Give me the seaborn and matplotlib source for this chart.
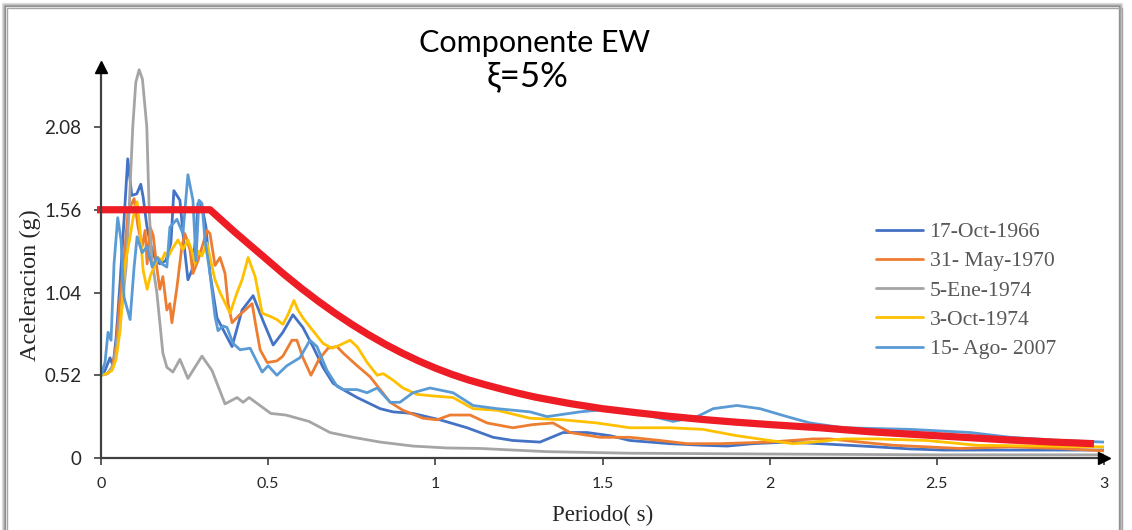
import numpy as np
import pandas as pd
import matplotlib
matplotlib.use("Agg")
import matplotlib.pyplot as plt
import seaborn as sns
from matplotlib import font_manager
from matplotlib.patches import Rectangle

# ---- Response spectra (period in s, spectral acceleration in g) ----
t_1966 = [0.000, 0.012, 0.027, 0.036, 0.045, 0.057, 0.069, 0.080, 0.092, 0.107, 0.119, 0.126,
          0.137, 0.147, 0.162, 0.176, 0.194, 0.209, 0.218, 0.236, 0.248, 0.260, 0.272, 0.284,
          0.290, 0.302, 0.314, 0.326, 0.347, 0.362, 0.392, 0.422, 0.455, 0.485, 0.515, 0.544,
          0.574, 0.604, 0.634, 0.664, 0.694, 0.724, 0.766, 0.835, 0.873, 0.933, 1.014, 1.095,
          1.173, 1.232, 1.313, 1.382, 1.454, 1.523, 1.582, 1.702, 1.800, 1.873, 1.950, 2.050,
          2.150, 2.320, 2.420, 2.520, 2.750, 3.000]
sa_1966 = [0.52, 0.55, 0.63, 0.58, 0.75, 1.10, 1.50, 1.88, 1.65, 1.66, 1.72, 1.64,
           1.46, 1.35, 1.25, 1.22, 1.24, 1.35, 1.68, 1.62, 1.35, 1.12, 1.18, 1.40,
           1.60, 1.58, 1.45, 1.16, 0.88, 0.82, 0.70, 0.93, 1.02, 0.86, 0.71, 0.79,
           0.90, 0.82, 0.70, 0.57, 0.47, 0.43, 0.38, 0.31, 0.29, 0.28, 0.24, 0.19,
           0.13, 0.11, 0.10, 0.16, 0.16, 0.14, 0.11, 0.09, 0.08, 0.075, 0.09, 0.10,
           0.09, 0.07, 0.057, 0.05, 0.05, 0.05]

t_1970 = [0.000, 0.018, 0.033, 0.045, 0.057, 0.069, 0.081, 0.099, 0.111, 0.123, 0.132, 0.138,
          0.147, 0.156, 0.168, 0.176, 0.185, 0.197, 0.206, 0.212, 0.227, 0.242, 0.251, 0.266,
          0.275, 0.290, 0.317, 0.326, 0.341, 0.356, 0.371, 0.380, 0.392, 0.410, 0.431, 0.452,
          0.464, 0.476, 0.497, 0.526, 0.544, 0.571, 0.586, 0.604, 0.628, 0.652, 0.679, 0.706,
          0.724, 0.766, 0.805, 0.835, 0.865, 0.903, 0.963, 1.005, 1.044, 1.104, 1.155, 1.232,
          1.292, 1.352, 1.403, 1.493, 1.582, 1.672, 1.753, 1.852, 2.000, 2.130, 2.180, 2.270,
          2.370, 2.470, 2.570, 2.720, 2.870, 3.000]
sa_1970 = [0.52, 0.53, 0.56, 0.70, 1.00, 1.25, 1.55, 1.63, 1.45, 1.33, 1.43, 1.22,
           1.45, 1.40, 1.18, 1.06, 1.14, 0.93, 0.97, 0.85, 1.07, 1.33, 1.41, 1.31,
           1.16, 1.24, 1.43, 1.41, 1.21, 1.26, 1.16, 0.97, 0.85, 0.89, 0.93, 0.97,
           0.82, 0.68, 0.60, 0.61, 0.64, 0.74, 0.74, 0.63, 0.52, 0.62, 0.69, 0.70,
           0.66, 0.58, 0.51, 0.43, 0.35, 0.30, 0.25, 0.24, 0.27, 0.27, 0.22, 0.19,
           0.21, 0.22, 0.16, 0.13, 0.13, 0.11, 0.09, 0.09, 0.10, 0.12, 0.12, 0.10,
           0.08, 0.07, 0.06, 0.07, 0.06, 0.045]

t_1974a = [0.000, 0.020, 0.040, 0.063, 0.075, 0.084, 0.095, 0.104, 0.114, 0.124, 0.137, 0.144,
           0.152, 0.167, 0.185, 0.197, 0.215, 0.236, 0.260, 0.302, 0.332, 0.371, 0.407, 0.425,
           0.443, 0.508, 0.553, 0.622, 0.685, 0.754, 0.835, 0.933, 1.035, 1.134, 1.232, 1.334,
           1.580, 2.000, 2.500, 3.000]
sa_1974a = [0.52, 0.53, 0.60, 0.95, 1.20, 1.56, 2.08, 2.36, 2.44, 2.38, 2.08, 1.56,
            1.25, 1.04, 0.66, 0.57, 0.54, 0.62, 0.50, 0.64, 0.55, 0.34, 0.38, 0.35,
            0.38, 0.28, 0.27, 0.23, 0.16, 0.13, 0.10, 0.075, 0.063, 0.06, 0.05, 0.04,
            0.03, 0.025, 0.02, 0.02]

t_1974b = [0.000, 0.018, 0.033, 0.045, 0.057, 0.072, 0.087, 0.096, 0.108, 0.117, 0.126, 0.138,
           0.147, 0.162, 0.171, 0.182, 0.191, 0.200, 0.212, 0.221, 0.230, 0.245, 0.260, 0.272,
           0.281, 0.290, 0.302, 0.317, 0.326, 0.341, 0.356, 0.386, 0.407, 0.422, 0.440, 0.461,
           0.482, 0.506, 0.526, 0.544, 0.559, 0.577, 0.589, 0.604, 0.634, 0.664, 0.691, 0.715,
           0.745, 0.766, 0.796, 0.826, 0.844, 0.873, 0.903, 0.945, 0.993, 1.053, 1.113, 1.185,
           1.283, 1.382, 1.484, 1.582, 1.702, 1.800, 1.902, 2.000, 2.070, 2.130, 2.220, 2.320,
           2.470, 2.620, 2.820, 3.000]
sa_1974b = [0.52, 0.53, 0.55, 0.62, 0.80, 1.22, 1.39, 1.51, 1.61, 1.43, 1.18, 1.06,
            1.14, 1.22, 1.26, 1.24, 1.29, 1.26, 1.31, 1.34, 1.37, 1.31, 1.37, 1.30,
            1.22, 1.30, 1.27, 1.35, 1.26, 1.12, 1.04, 0.91, 1.04, 1.12, 1.26, 1.14,
            0.91, 0.89, 0.87, 0.84, 0.90, 0.99, 0.93, 0.88, 0.80, 0.72, 0.69, 0.71,
            0.74, 0.70, 0.60, 0.52, 0.53, 0.49, 0.44, 0.40, 0.39, 0.38, 0.31, 0.30,
            0.25, 0.24, 0.22, 0.19, 0.19, 0.18, 0.14, 0.11, 0.09, 0.10, 0.12, 0.12,
            0.11, 0.08, 0.075, 0.07]

t_2007 = [0.000, 0.012, 0.021, 0.030, 0.039, 0.050, 0.060, 0.069, 0.087, 0.099, 0.108, 0.123,
          0.138, 0.153, 0.168, 0.182, 0.197, 0.206, 0.227, 0.245, 0.260, 0.275, 0.284, 0.293,
          0.302, 0.311, 0.326, 0.341, 0.350, 0.365, 0.377, 0.395, 0.416, 0.446, 0.482, 0.500,
          0.526, 0.556, 0.595, 0.625, 0.646, 0.676, 0.706, 0.724, 0.766, 0.796, 0.826, 0.865,
          0.894, 0.933, 0.984, 1.053, 1.113, 1.185, 1.283, 1.334, 1.433, 1.532, 1.633, 1.711,
          1.783, 1.831, 1.902, 1.971, 2.052, 2.121, 2.220, 2.420, 2.600, 2.720, 2.870, 3.000]
sa_2007 = [0.52, 0.60, 0.79, 0.74, 1.22, 1.51, 1.37, 1.01, 0.87, 1.20, 1.39, 1.29,
           1.33, 1.20, 1.26, 1.22, 1.20, 1.45, 1.50, 1.41, 1.78, 1.62, 1.24, 1.62,
           1.60, 1.37, 1.16, 0.89, 0.80, 0.83, 0.82, 0.72, 0.68, 0.69, 0.54, 0.58,
           0.52, 0.58, 0.63, 0.74, 0.70, 0.55, 0.45, 0.43, 0.43, 0.41, 0.44, 0.35,
           0.35, 0.41, 0.44, 0.41, 0.33, 0.31, 0.29, 0.26, 0.29, 0.31, 0.27, 0.23,
           0.26, 0.31, 0.33, 0.31, 0.26, 0.22, 0.19, 0.18, 0.16, 0.13, 0.11, 0.10]

# Design spectrum (plateau then descending branch)
t_diseno = [-0.012, 0.326, 0.40, 0.45, 0.50, 0.55, 0.60, 0.65, 0.70, 0.75, 0.80, 0.85, 0.90,
            0.95, 1.00, 1.05, 1.10, 1.15, 1.20, 1.25, 1.30, 1.40, 1.50, 1.60, 1.70, 1.80,
            1.90, 2.00, 2.15, 2.30, 2.50, 2.70, 2.85, 2.97]
sa_diseno = [1.56, 1.56, 1.42, 1.33, 1.24, 1.15, 1.065, 0.985, 0.91, 0.84, 0.775, 0.715, 0.66,
             0.61, 0.565, 0.525, 0.49, 0.46, 0.432, 0.406, 0.382, 0.343, 0.31, 0.285, 0.262,
             0.242, 0.225, 0.21, 0.19, 0.165, 0.14, 0.115, 0.10, 0.09]

eventos = ["17-Oct-1966", "31- May-1970", "5-Ene-1974", "3-Oct-1974", "15- Ago- 2007"]
colores = ["#4472C4", "#ED7D31", "#A5A5A5", "#FFC000", "#5B9BD5"]

y_ticks = [0, 0.52, 1.04, 1.56, 2.08]
y_tick_labels = ["0", "0.52", "1.04", "1.56", "2.08"]
x_ticks = [0, 0.5, 1, 1.5, 2, 2.5, 3]
x_tick_labels = ["0", "0.5", "1", "1.5", "2", "2.5", "3"]

# ---- long-format table for seaborn ----
series_t = [t_1966, t_1970, t_1974a, t_1974b, t_2007]
series_sa = [sa_1966, sa_1970, sa_1974a, sa_1974b, sa_2007]
frames = []
for nombre, tt, ss in zip(eventos, series_t, series_sa):
    frames.append(pd.DataFrame({"Periodo": tt, "Sa": ss, "Evento": nombre}))
df = pd.concat(frames, ignore_index=True)


def pick_font(*names):
    avail = {f.name for f in font_manager.fontManager.ttflist}
    for n in names:
        if n in avail:
            return n
    return "DejaVu Sans"


sns.set_theme(style="white")
sans = pick_font("Lato", "Open Sans", "Liberation Sans")
serif = pick_font("Liberation Serif", "DejaVu Serif")
plt.rcParams["font.family"] = [sans, "DejaVu Sans"]

W, H = 1132, 530
fig = plt.figure(figsize=(W / 100, H / 100), dpi=100)
fig.patch.set_facecolor("white")

x0_px, x1_px = 101, 1104
y0_px, ytop_px = 458, 67
ax = fig.add_axes([x0_px / W, 1 - y0_px / H, (x1_px - x0_px) / W, (y0_px - ytop_px) / H])
ax.set_facecolor("white")

sns.lineplot(data=df, x="Periodo", y="Sa", hue="Evento", hue_order=eventos,
             palette=colores, sort=False, estimator=None, linewidth=2.0, ax=ax)

sns.lineplot(x=t_diseno, y=sa_diseno, color="#EE1C25", linewidth=5.2, sort=False,
             estimator=None, ax=ax)
ax.lines[-1].set_clip_on(False)
ax.lines[-1].set_solid_capstyle("butt")

ax.set_xlim(0, 3.0)
ax.set_ylim(0, (y0_px - ytop_px) * 0.52 / 82.75)

# axes styling: only the two axes with arrow heads
for s in ["top", "right"]:
    ax.spines[s].set_visible(False)
for s in ["left", "bottom"]:
    ax.spines[s].set_color("#404040")
    ax.spines[s].set_linewidth(1.6)
ax.plot([0], [1], marker="^", color="black", markersize=9, transform=ax.transAxes,
        clip_on=False, zorder=6)
ax.plot([1], [0], marker=">", color="black", markersize=9, transform=ax.transAxes,
        clip_on=False, zorder=6)

ax.set_yticks(y_ticks)
ax.set_yticklabels(y_tick_labels, fontsize=13.5, color="#262626")
ax.set_xticks(x_ticks)
ax.set_xticklabels(x_tick_labels, fontsize=11.5, color="#262626")
ax.tick_params(axis="both", which="both", direction="out", length=5, width=1.2,
               color="#404040", left=True, bottom=True)
ax.tick_params(axis="y", pad=9)
ax.tick_params(axis="x", pad=9)

ax.set_xlabel("Periodo( s)", fontsize=16.5, family=serif, color="#262626", labelpad=10)
ax.set_ylabel("")
fig.text(30 / W, 1 - 285 / H, "Aceleracion (g)", rotation=90, ha="center", va="center",
         fontsize=17.5, family=serif, color="#262626")

handles, labels = ax.get_legend_handles_labels()
leg = ax.legend(handles[:5], labels[:5], loc="upper left",
                bbox_to_anchor=(876 / W, 1 - 222 / H), bbox_transform=fig.transFigure,
                frameon=False, borderpad=0, borderaxespad=0, handlelength=2.15,
                handletextpad=0.32, labelspacing=0.42, prop={"family": serif, "size": 15.6})
for txt in leg.get_texts():
    txt.set_color("#595959")
for ln in leg.get_lines():
    ln.set_linewidth(2.0)

# title in two lines
fig.text(535 / W, 1 - 43 / H, "Componente EW", ha="center", va="center", fontsize=22,
         color="black", family=[sans, "DejaVu Sans"])
fig.text(528 / W, 1 - 76 / H, "ξ=5%", ha="center", va="center", fontsize=25,
         color="black", family=[sans, "DejaVu Sans"])

# chart frame with a soft shadow
for i, a in enumerate([0.10, 0.18, 0.28, 0.40]):
    fig.patches.append(Rectangle(((2 + i) / W, -0.01), (1122 - 2 - 2 * i) / W, (H - 3 - i) / H + 0.01,
                                 transform=fig.transFigure, fill=False, ec="black", alpha=a,
                                 lw=1.0))
fig.patches.append(Rectangle((7 / W, -0.01), (1115) / W, (H - 8) / H + 0.01,
                             transform=fig.transFigure, fill=False, ec="#A6A6A6", lw=1.0))

fig.savefig("out.png", dpi=100, facecolor="white")
